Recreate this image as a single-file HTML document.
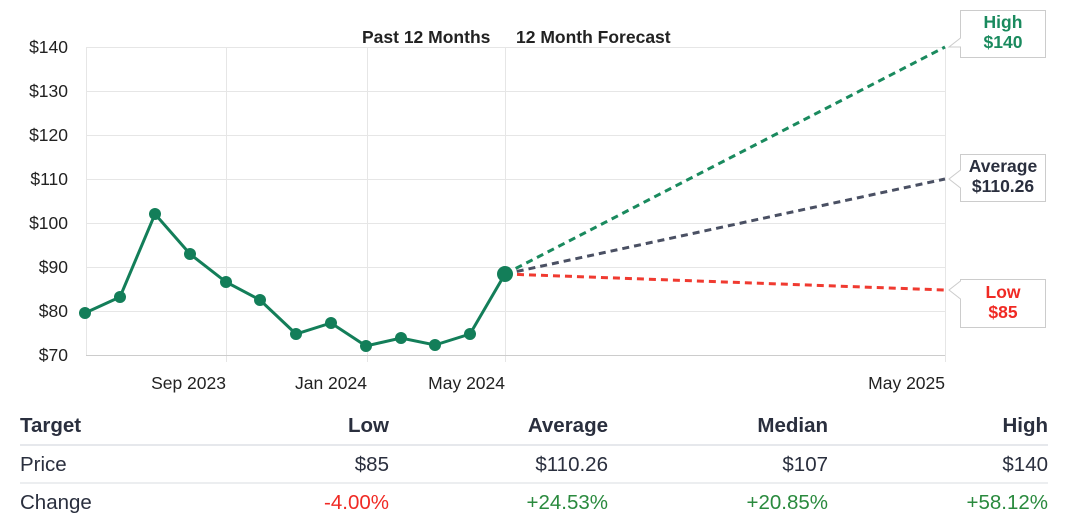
<!DOCTYPE html>
<html><head><meta charset="utf-8"><style>
body{margin:0;background:#fff;width:1068px;height:525px;overflow:hidden;font-family:"Liberation Sans",sans-serif}
</style></head><body>
<svg width="1068" height="525" viewBox="0 0 1068 525" font-family="Liberation Sans, sans-serif">
<g stroke="#e6e6e6" stroke-width="1">
<line x1="86" y1="47.5" x2="945" y2="47.5"/><line x1="86" y1="91.5" x2="945" y2="91.5"/>
<line x1="86" y1="135.5" x2="945" y2="135.5"/><line x1="86" y1="179.5" x2="945" y2="179.5"/>
<line x1="86" y1="223.5" x2="945" y2="223.5"/><line x1="86" y1="267.5" x2="945" y2="267.5"/>
<line x1="86" y1="311.5" x2="945" y2="311.5"/>
<line x1="226.5" y1="47" x2="226.5" y2="362"/><line x1="367.5" y1="47" x2="367.5" y2="362"/>
<line x1="505.5" y1="47" x2="505.5" y2="362"/><line x1="945.5" y1="47" x2="945.5" y2="362"/>
<line x1="86.5" y1="47" x2="86.5" y2="355"/>
</g>
<line x1="86" y1="355.5" x2="945" y2="355.5" stroke="#ccc"/>
<g font-size="17.5" fill="#222" text-anchor="end">
<text x="68" y="53">$140</text><text x="68" y="97">$130</text><text x="68" y="141">$120</text>
<text x="68" y="185">$110</text><text x="68" y="229">$100</text><text x="68" y="273">$90</text>
<text x="68" y="317">$80</text><text x="68" y="361">$70</text>
</g>
<g font-size="17.5" fill="#222" text-anchor="end">
<text x="226" y="389">Sep 2023</text><text x="367" y="389">Jan 2024</text>
<text x="505" y="389">May 2024</text><text x="945" y="389">May 2025</text>
</g>
<g font-size="17.5" font-weight="bold" fill="#222">
<text x="362" y="43">Past 12 Months</text><text x="516" y="43">12 Month Forecast</text>
</g>
<g stroke-width="3" stroke-dasharray="7,5" fill="none">
<line x1="505" y1="274" x2="945" y2="47" stroke="#1a8a5e"/>
<line x1="505" y1="274" x2="945" y2="179" stroke="#4a5063"/>
<line x1="505" y1="274" x2="945" y2="290" stroke="#f03a30"/>
</g>
<polyline fill="none" stroke="#137e59" stroke-width="3" points="85,313 120,297 155,214 190,254 226,282 260,300 296,334 331,323 366,346 401,338 435,345 470,334 505,274"/>
<g fill="#137e59">
<circle cx="85" cy="313" r="6"/><circle cx="120" cy="297" r="6"/><circle cx="155" cy="214" r="6"/>
<circle cx="190" cy="254" r="6"/><circle cx="226" cy="282" r="6"/><circle cx="260" cy="300" r="6"/>
<circle cx="296" cy="334" r="6"/><circle cx="331" cy="323" r="6"/><circle cx="366" cy="346" r="6"/>
<circle cx="401" cy="338" r="6"/><circle cx="435" cy="345" r="6"/><circle cx="470" cy="334" r="6"/>
<circle cx="505" cy="274" r="8"/>
</g>
<g fill="#fff" stroke="#ccc">
<path d="M960.5,10.5 H1045.5 V57.5 H960.5 V47 L949,47 L960.5,38 Z"/>
<path d="M960.5,154.5 H1045.5 V201.5 H960.5 V188 L949,179 L960.5,170 Z"/>
<path d="M960.5,279.5 H1045.5 V327.5 H960.5 V299 L949,290 L960.5,281 Z"/>
</g>
<g font-size="17.5" font-weight="bold" text-anchor="middle">
<text x="1003" y="28" fill="#1a8a5e">High</text><text x="1003" y="48" fill="#1a8a5e">$140</text>
<text x="1003" y="172" fill="#2a2f3e">Average</text><text x="1003" y="192" fill="#2a2f3e">$110.26</text>
<text x="1003" y="298" fill="#f02a24">Low</text><text x="1003" y="318" fill="#f02a24">$85</text>
</g>
<line x1="20" y1="445" x2="1048" y2="445" stroke="#dde0e6" stroke-width="1.5"/>
<line x1="20" y1="483" x2="1048" y2="483" stroke="#e6e8ec" stroke-width="1.5"/>
<g font-size="20.5" font-weight="bold" fill="#2a2f3e">
<text x="20" y="432">Target</text>
<g text-anchor="end"><text x="389" y="432">Low</text><text x="608" y="432">Average</text><text x="828" y="432">Median</text><text x="1048" y="432">High</text></g>
</g>
<g font-size="20.5" fill="#2a2f3e">
<text x="20" y="471">Price</text>
<g text-anchor="end"><text x="389" y="471">$85</text><text x="608" y="471">$110.26</text><text x="828" y="471">$107</text><text x="1048" y="471">$140</text></g>
<text x="20" y="509">Change</text>
<g text-anchor="end"><text x="389" y="509" fill="#f02a24">-4.00%</text><text x="608" y="509" fill="#2a8a3e">+24.53%</text><text x="828" y="509" fill="#2a8a3e">+20.85%</text><text x="1048" y="509" fill="#2a8a3e">+58.12%</text></g>
</g>
</svg>
</body></html>
